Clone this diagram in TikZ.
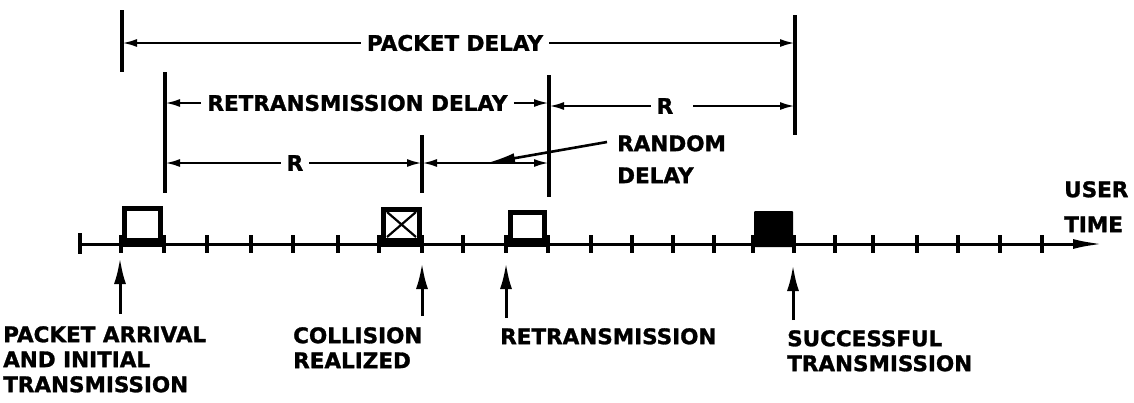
\documentclass[tikz,border=0pt]{standalone}
\usepackage{fontspec}
\setmainfont{DejaVu Sans}[BoldFeatures={FakeBold=1.3}]
\usetikzlibrary{arrows.meta}
\begin{document}
\begin{tikzpicture}[x=1pt,y=-1pt,
  lbl/.style={font=\fontsize{21.5}{25}\selectfont\bfseries, inner sep=0pt, align=left, anchor=north west},
  dimtext/.style={font=\fontsize{21.5}{25}\selectfont\bfseries, inner ysep=0pt, inner xsep=6pt},
  dim/.style={line width=2.4pt, -{Latex[length=15pt,width=8pt]}},
  dimboth/.style={line width=2.4pt, {Latex[length=15pt,width=8pt]}-{Latex[length=15pt,width=8pt]}},
  vline/.style={line width=3.2pt},
  axis/.style={line width=3pt, -{Latex[length=30pt,width=10pt]}},
  tickmark/.style={line width=3.2pt},
  pkt/.style={line width=5pt, line join=miter},
  uparrow/.style={line width=3pt, -{Latex[length=26pt,width=12pt]}},
  leader/.style={line width=2.6pt, -{Latex[length=28pt,width=10pt]}},
]
\useasboundingbox (0,0) rectangle (1134,402);

% ---- time axis ----
\coordinate (ax0) at (80,244);
\coordinate (axE) at (1103,244);
\draw[axis] (ax0) -- (axE);
\draw[tickmark] (80,233) -- (80,254);
\foreach \x in {121,164,207,251,293,338,379,422,463,506,548,591,632,673,714,753,794,835,873,917,958,1000,1042}
  \draw[tickmark] (\x,235) -- (\x,253);

% ---- packets ----
\draw[pkt] (124.5,244) -- (124.5,208.5) -- (160.5,208.5) -- (160.5,244);
\fill (120,238) rectangle (165,247);
\draw[pkt] (383.5,244) -- (383.5,209.5) -- (419.5,209.5) -- (419.5,244);
\fill (379,238) rectangle (424,247);
\draw[line width=2.2pt] (387,212) -- (416,237) (416,212) -- (387,237);
\draw[pkt] (510.5,244) -- (510.5,212.5) -- (544.5,212.5) -- (544.5,244);
\fill (506,238) rectangle (549,247);
\fill[rounded corners=1pt] (754,211) rectangle (793,247);

% ---- vertical extension lines ----
\draw[vline] (122,10) -- (122,72);
\draw[vline] (795,15) -- (795,135);
\draw[vline] (165,72) -- (165,193);
\draw[vline] (549,75) -- (549,197);
\draw[vline] (422,135) -- (422,193);

% ---- PACKET DELAY ----
\coordinate (pdL) at (122,43);
\coordinate (pdR) at (795,43);
\node[dimtext] (pd) at (455,43) {PACKET DELAY};
\draw[dim] (pd.west) -- (pdL);
\draw[dim] (pd.east) -- (pdR);

% ---- RETRANSMISSION DELAY ----
\coordinate (rdL) at (165,103);
\coordinate (rdR) at (549,103);
\node[dimtext] (rd) at (357.5,103) {RETRANSMISSION DELAY};
\draw[dim] (rd.west) -- (rdL);
\draw[dim] (rd.east) -- (rdR);

% ---- second R ----
\coordinate (r2L) at (549,106);
\coordinate (r2R) at (795,106);
\node[dimtext] (r2) at (665,106) {R};
\draw[dim] (r2.west) -- (r2L);
\draw[dim] ([xshift=14pt]r2.east) -- (r2R);

% ---- first R ----
\coordinate (r1L) at (165,163);
\coordinate (r1R) at (422,163);
\node[dimtext] (r1) at (295,163) {R};
\draw[dim] (r1.west) -- (r1L);
\draw[dim] (r1.east) -- (r1R);

% ---- random delay ----
\coordinate (rnL) at (422,163);
\coordinate (rnR) at (549,163);
\draw[dimboth] (rnL) -- (rnR);
\coordinate (rnTip) at (487,163);
\node[lbl, font=\fontsize{21.5}{32}\selectfont\bfseries] (rnd) at (617,135) {RANDOM\\DELAY};
\draw[leader] ([shift={(-10,7)}]rnd.north west) -- (rnTip);

% ---- axis label ----
\node[lbl, font=\fontsize{21.5}{35}\selectfont\bfseries] (ut) at (1064,181) {USER\\TIME};

% ---- bottom labels ----
\node[lbl] (lpa) at (3,326) {PACKET ARRIVAL\\AND INITIAL\\TRANSMISSION};
\node[lbl] (lcol) at (293,327) {COLLISION\\REALIZED};
\node[lbl] (lrt) at (500,328) {RETRANSMISSION};
\node[lbl] (lsu) at (787,330) {SUCCESSFUL\\TRANSMISSION};

\coordinate (tipA) at (120,258);  \coordinate (tailA) at (120,314);
\coordinate (tipB) at (422,263);  \coordinate (tailB) at (422,316);
\coordinate (tipC) at (506,263);  \coordinate (tailC) at (506,318);
\coordinate (tipD) at (793,265);  \coordinate (tailD) at (793,320);
\draw[uparrow] (tailA) -- (tipA);
\draw[uparrow] (tailB) -- (tipB);
\draw[uparrow] (tailC) -- (tipC);
\draw[uparrow] (tailD) -- (tipD);
\end{tikzpicture}
\end{document}
